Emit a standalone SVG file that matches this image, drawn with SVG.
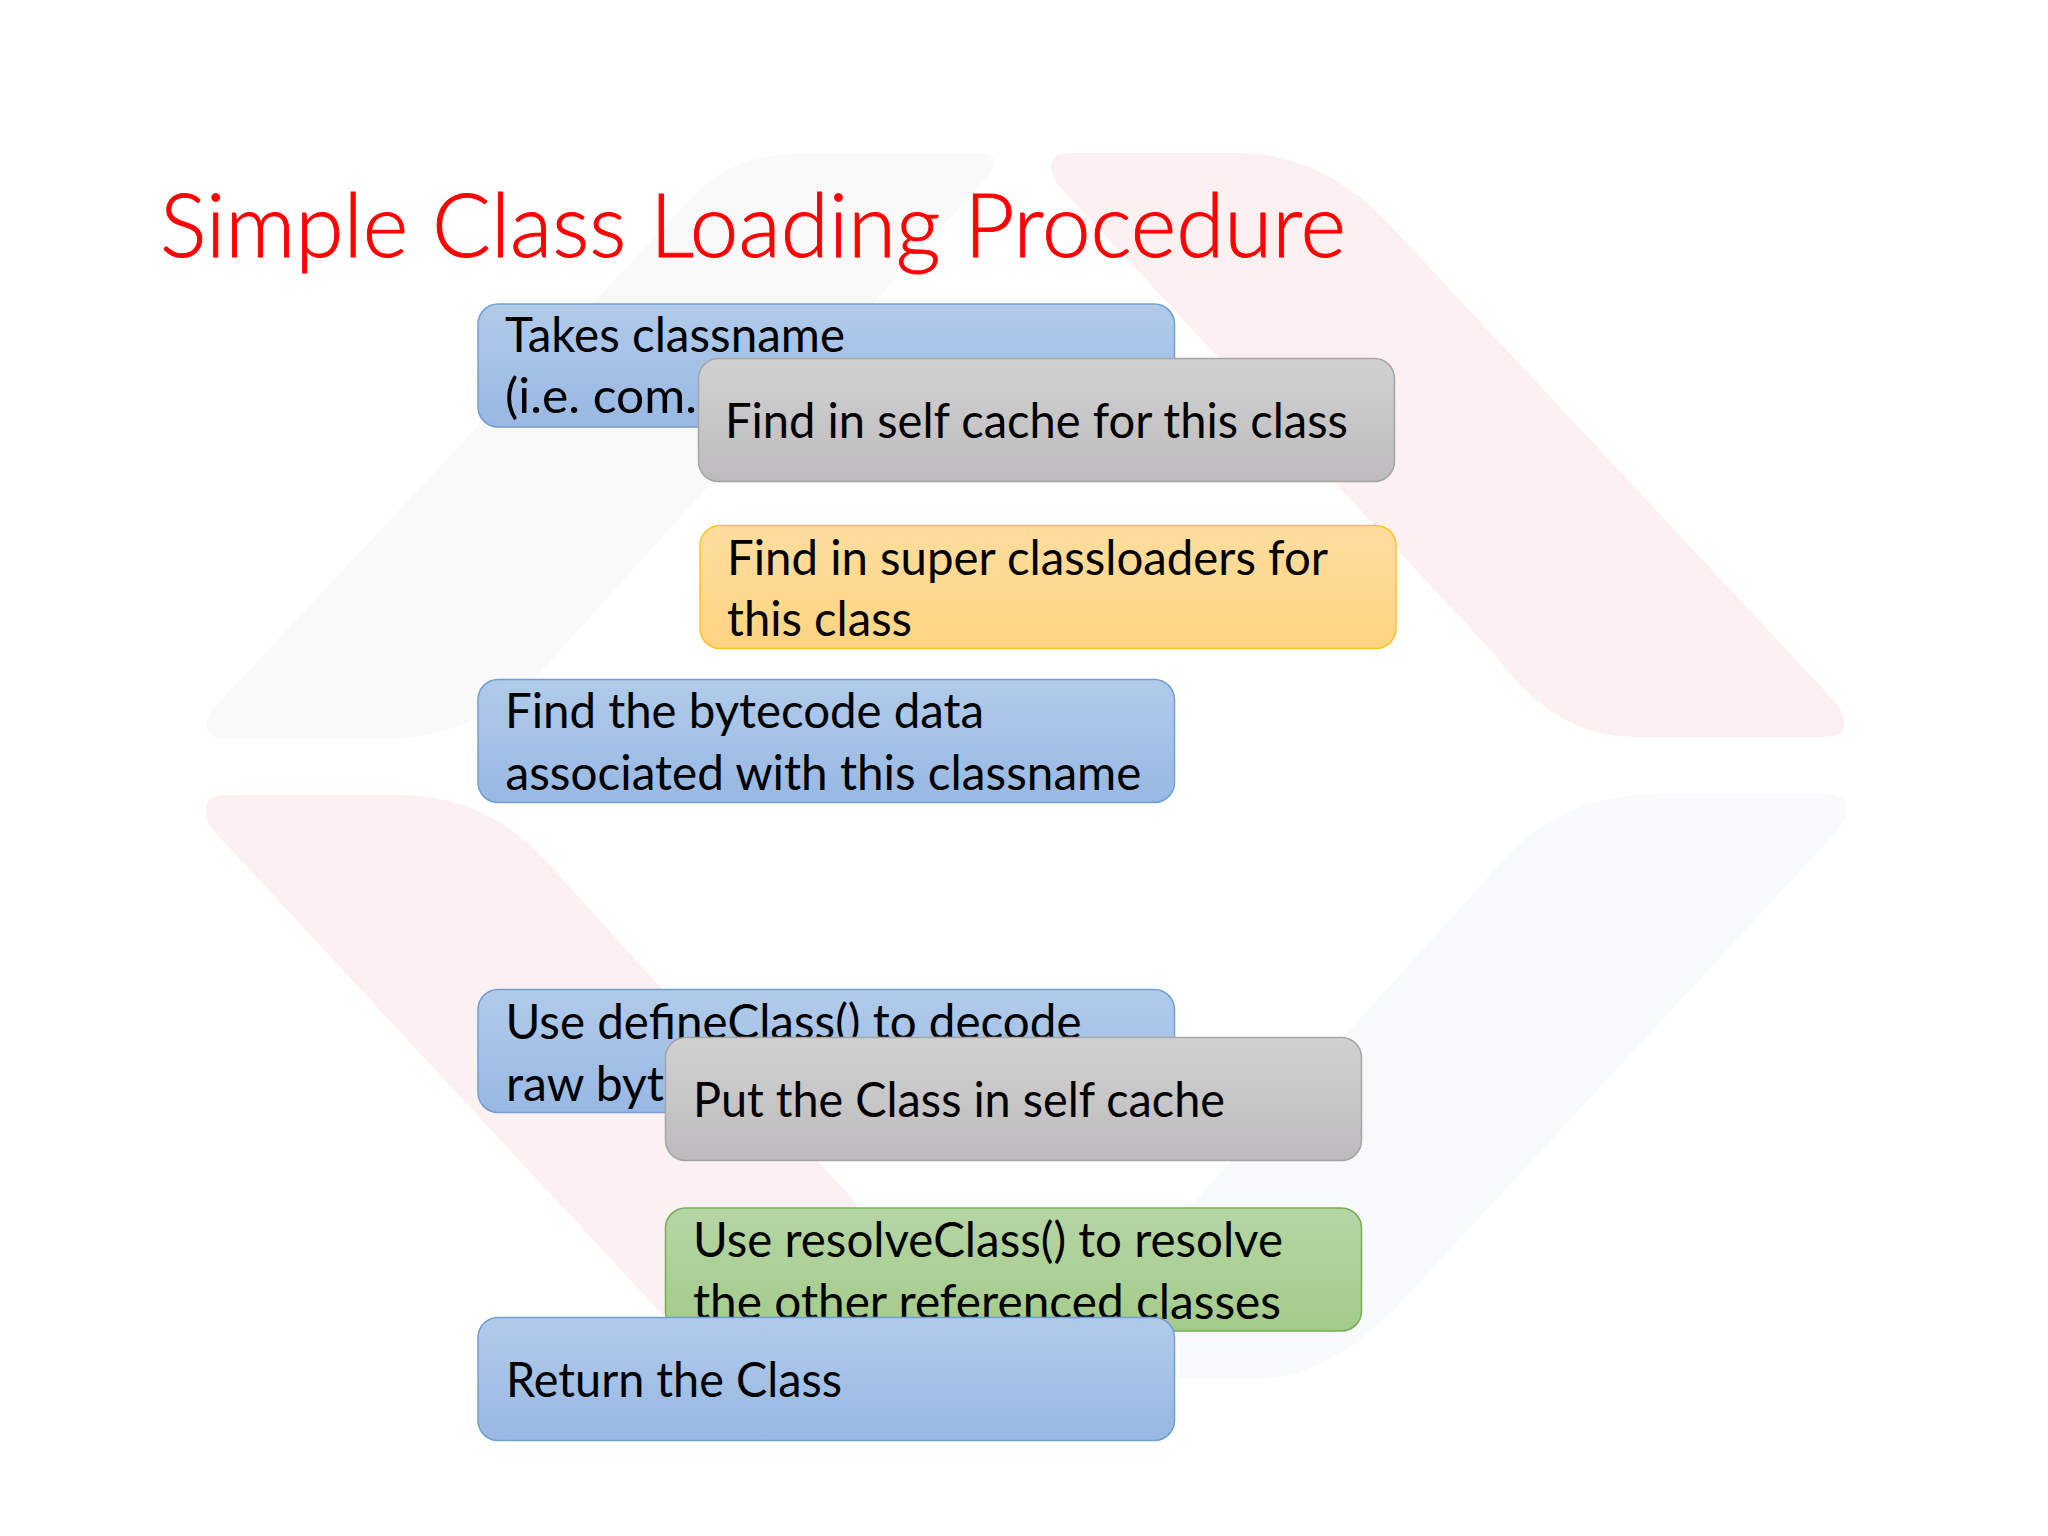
<svg xmlns="http://www.w3.org/2000/svg" width="2048" height="1536" viewBox="0 0 2048 1536">
<defs>
<linearGradient id="gb" x1="0" y1="0" x2="0" y2="1"><stop offset="0" stop-color="#b1cbe9"/><stop offset="1" stop-color="#98b8e3"/></linearGradient>
<linearGradient id="gg" x1="0" y1="0" x2="0" y2="1"><stop offset="0" stop-color="#d2d1d2"/><stop offset="1" stop-color="#bdbbbd"/></linearGradient>
<linearGradient id="go" x1="0" y1="0" x2="0" y2="1"><stop offset="0" stop-color="#fedd9f"/><stop offset="1" stop-color="#fed481"/></linearGradient>
<linearGradient id="gv" x1="0" y1="0" x2="0" y2="1"><stop offset="0" stop-color="#b6d6a5"/><stop offset="1" stop-color="#a3cb8a"/></linearGradient>
</defs>
<style>
text{font-family:"Lato","Carlito","Liberation Sans",sans-serif;font-size:48px;fill:#000}
.t{font-size:88px;fill:#f00;font-weight:300;stroke:#f00;stroke-width:.9}
.b{fill:url(#gb);stroke:#6f9fd4;stroke-width:1.5}
.g{fill:url(#gg);stroke:#a5a5a5;stroke-width:1.5}
.o{fill:url(#go);stroke:#fdc327;stroke-width:1.5}
.v{fill:url(#gv);stroke:#75ac55;stroke-width:1.5}
.pr{fill:#fcf0f1}.pg{fill:#f9f9f9}.pb{fill:#f8f9fa}
</style>
<rect width="2048" height="1536" fill="#fff"/>
<g id="background">
<path class="pg" d="M811 153H975Q1005 153 989 175L547 665Q480 739 381 739H226Q198 739 210 712L697 192Q735 153 811 153Z"/>
<path class="pr" d="M1072 153H1238Q1320 153 1386 221L1838 705Q1855 737 1825 737H1633Q1555 737 1496 656L1057 184Q1040 153 1072 153Z"/>
<path class="pr" d="M226 795H399Q485 795 545 860L858 1205L723 1380L211 828Q195 795 226 795Z"/>
<path class="pb" d="M1661 794H1825Q1858 794 1840 828L1406 1297Q1330 1379 1253 1379H1034L1187 1210L1508 855Q1565 794 1661 794Z"/>
</g>
<g id="connectors"/>
<text class="t" x="160" y="257" textLength="1186" lengthAdjust="spacingAndGlyphs">Simple Class Loading Procedure</text>
<g id="n1"><rect class="b" x="478" y="304" width="696.500" height="123" rx="20"/>
<text x="505" y="352" textLength="340" lengthAdjust="spacingAndGlyphs">Takes classname</text>
<text x="505" y="413" textLength="192" lengthAdjust="spacingAndGlyphs">(i.e. com.</text></g>
<g id="n2"><rect class="g" x="698.500" y="358.500" width="696" height="123" rx="20"/>
<text x="725" y="438" textLength="623" lengthAdjust="spacingAndGlyphs">Find in self cache for this class</text></g>
<g id="n3"><rect class="o" x="700" y="525.500" width="696" height="123" rx="20"/>
<text x="727" y="575" textLength="601" lengthAdjust="spacingAndGlyphs">Find in super classloaders for</text>
<text x="727" y="636" textLength="185" lengthAdjust="spacingAndGlyphs">this class</text></g>
<g id="n4"><rect class="b" x="478" y="679.500" width="696.500" height="123" rx="20"/>
<text x="505" y="728" textLength="479" lengthAdjust="spacingAndGlyphs">Find the bytecode data</text>
<text x="505.500" y="789.500" textLength="636" lengthAdjust="spacingAndGlyphs">associated with this classname</text></g>
<g id="n5"><rect class="b" x="478" y="989.500" width="696.500" height="123" rx="20"/>
<text x="505.500" y="1039" textLength="576" lengthAdjust="spacingAndGlyphs">Use defineClass() to decode</text>
<text x="506" y="1100.500">raw byte</text></g>
<g id="n6"><rect class="g" x="665.500" y="1037.500" width="696" height="123" rx="20"/>
<text x="693" y="1117" textLength="532" lengthAdjust="spacingAndGlyphs">Put the Class in self cache</text></g>
<g id="n7"><rect class="v" x="665.500" y="1208" width="696" height="123" rx="20"/>
<text x="693" y="1257" textLength="590" lengthAdjust="spacingAndGlyphs">Use resolveClass() to resolve</text>
<text x="693" y="1319" textLength="588" lengthAdjust="spacingAndGlyphs">the other referenced classes</text></g>
<g id="n8"><rect class="b" x="478" y="1317.500" width="696.500" height="123" rx="20"/>
<text x="506" y="1397" textLength="336" lengthAdjust="spacingAndGlyphs">Return the Class</text></g>
</svg>
